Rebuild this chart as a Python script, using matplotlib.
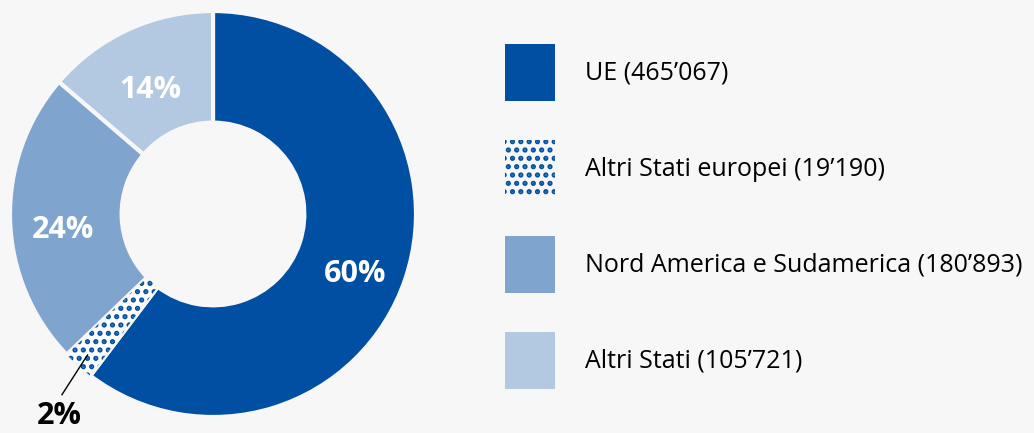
import numpy as np
import matplotlib.pyplot as plt
from matplotlib.patches import Wedge

plt.rcParams['font.family'] = ['Open Sans', 'DejaVu Sans']
plt.rcParams['hatch.linewidth'] = 2.5

# Dati
regioni = ['UE', 'Altri Stati europei', 'Nord America e Sudamerica', 'Altri Stati']
valori = [465067, 19190, 180893, 105721]
etichette = ['60%', '2%', '24%', '14%']
colori = ['#004fa2', '#ffffff', '#7fa5cf', '#b3c9e2']
blu = '#004fa2'
sfondo = '#f7f7f7'
tratteggio = '..'


def fmt(v):
    return f'{v:,}'.replace(',', '\u2019')


fig = plt.figure(figsize=(10.34, 4.33), dpi=100, facecolor=sfondo)
W, H = 1034, 433
cx, cy, R = 213, 214, 203
ax = fig.add_axes([(cx - R) / W, (H - cy - R) / H, 2 * R / W, 2 * R / H])
ax.set_facecolor(sfondo)

wedges, _ = ax.pie(valori, colors=colori, startangle=90, counterclock=False,
                   radius=1, wedgeprops=dict(width=0.55, edgecolor=sfondo, linewidth=3))
ax.set_xlim(-1, 1)
ax.set_ylim(-1, 1)
ax.set_aspect('equal')
ax.axis('off')

# tratteggio per "Altri Stati europei"
w = wedges[1]
overlay = Wedge(w.center, w.r, w.theta1, w.theta2, width=w.width,
                facecolor='none', edgecolor=blu, linewidth=0, hatch=tratteggio)
ax.add_patch(overlay)

# etichette percentuali
tot = sum(valori)
inizio = 90
for i, (v, lab) in enumerate(zip(valori, etichette)):
    ang = inizio - v / tot * 360 / 2
    inizio -= v / tot * 360
    if i == 1:
        x0, y0 = 0.93 * np.cos(np.radians(ang)), 0.93 * np.sin(np.radians(ang))
        ax.plot([x0, -0.744], [y0, -0.89], color='black', lw=1, clip_on=False)
        ax.text(-0.755, -1.068, lab, fontsize=22, fontweight='bold', color='black',
                ha='center', va='bottom', clip_on=False)
    else:
        r = 0.74
        ax.text(r * np.cos(np.radians(ang)), r * np.sin(np.radians(ang)) - 0.06, lab,
                fontsize=22, fontweight='bold', color='white', ha='center', va='center')

# legenda
handles = []
for i, c in enumerate(colori):
    if i == 1:
        p = plt.Rectangle((0, 0), 1, 1, facecolor=sfondo, edgecolor=blu,
                          linewidth=0, hatch=tratteggio)
    else:
        p = plt.Rectangle((0, 0), 1, 1, facecolor=c, edgecolor=c, linewidth=0)
    handles.append(p)
labels = [f'{r} ({fmt(v)})' for r, v in zip(regioni, valori)]
fig.legend(handles, labels, loc='upper left', bbox_to_anchor=(505 / W, 1 - 44 / H),
           frameon=False, fontsize=18, handlelength=2.0, handleheight=3.13,
           labelspacing=1.56, handletextpad=1.2, borderpad=0, borderaxespad=0)

plt.savefig('out.png', dpi=100, facecolor=sfondo)
